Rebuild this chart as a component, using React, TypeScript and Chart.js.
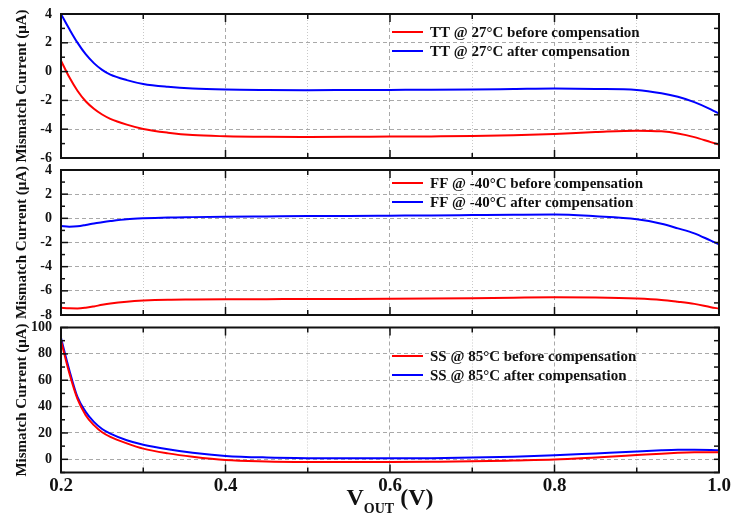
import React, { useEffect, useRef } from "react";
import { Chart, registerables } from "chart.js";

Chart.register(...registerables);

// ---------- data ----------
const vout = [
  0.2, 0.21, 0.22, 0.23, 0.24, 0.25, 0.26, 0.28, 0.3, 0.33, 0.36, 0.4, 0.45, 0.5,
  0.55, 0.6, 0.65, 0.7, 0.75, 0.8, 0.85, 0.9, 0.93, 0.95, 0.97, 0.99, 1.0,
];

const ttBefore = [
  0.76, -0.38, -1.33, -2.06, -2.58, -2.98, -3.28, -3.68, -3.98, -4.24, -4.41, -4.49, -4.53, -4.54,
  -4.53, -4.51, -4.5, -4.48, -4.42, -4.33, -4.2, -4.1, -4.15, -4.3, -4.55, -4.9, -5.07,
];
const ttAfter = [
  4.0, 2.97, 2.01, 1.21, 0.59, 0.12, -0.21, -0.59, -0.86, -1.06, -1.18, -1.25, -1.28, -1.29,
  -1.28, -1.27, -1.26, -1.24, -1.21, -1.18, -1.2, -1.27, -1.5, -1.75, -2.12, -2.62, -2.92,
];

const ffBefore = [
  -7.39, -7.45, -7.46, -7.4, -7.29, -7.16, -7.05, -6.9, -6.81, -6.74, -6.72, -6.7, -6.69, -6.67,
  -6.67, -6.66, -6.64, -6.61, -6.57, -6.54, -6.56, -6.64, -6.75, -6.9, -7.08, -7.35, -7.47,
];
const ffAfter = [
  -0.64, -0.69, -0.66, -0.55, -0.42, -0.32, -0.23, -0.08, 0.0, 0.07, 0.1, 0.13, 0.16, 0.19,
  0.2, 0.22, 0.24, 0.27, 0.3, 0.32, 0.17, -0.08, -0.45, -0.83, -1.24, -1.85, -2.15,
];

const ssBefore = [
  90, 65.6, 45.8, 33.5, 25.9, 20.5, 17.0, 12.1, 8.1, 4.5, 1.9, -0.6, -1.6, -2.0,
  -2.1, -2.0, -1.8, -1.5, -0.9, -0.2, 1.4, 3.2, 4.3, 4.9, 5.3, 5.4, 5.3,
];
const ssAfter = [
  92, 68, 47.3, 36.0, 28.4, 23.0, 19.5, 14.5, 11.1, 7.6, 4.9, 2.6, 1.4, 0.9,
  0.8, 0.8, 0.9, 1.3, 2.0, 3.0, 4.5, 6.0, 6.8, 7.2, 7.3, 7.1, 6.8,
];

const xTickLabels = ["0.2", "0.4", "0.6", "0.8", "1.0"];
const yTickLabelsTT = ["-6", "-4", "-2", "0", "2", "4"];
const yTickLabelsFF = ["-8", "-6", "-4", "-2", "0", "2", "4"];
const yTickLabelsSS = ["0", "20", "40", "60", "80", "100"];

const labelsTT = ["TT @ 27°C before compensation", "TT @ 27°C after compensation"];
const labelsFF = ["FF @ -40°C before compensation", "FF @ -40°C after compensation"];
const labelsSS = ["SS @ 85°C before compensation", "SS @ 85°C after compensation"];

const yAxisTitle = "Mismatch Current (μA)";
const xTitleMain = "V";
const xTitleSub = "OUT";
const xTitleUnit = "(V)";

// ---------- layout / style ----------
const W = 731;
const H = 517;
const PLOT_LEFT = 61;
const PLOT_RIGHT = 719;
const FONT = "'Liberation Serif', 'Times New Roman', Times, serif";
const TEXT = "#111";
const RED = "#ff0000";
const BLUE = "#0000ff";

type Panel = {
  top: number;
  bottom: number;
  yMin: number;
  yMax: number;
  yStep: number;
  yLabels: string[];
  before: number[];
  after: number[];
  labels: string[];
  legendDy: number;
  last: boolean;
};

const panels: Panel[] = [
  { top: 14, bottom: 158, yMin: -6, yMax: 4, yStep: 1, yLabels: yTickLabelsTT, before: ttBefore, after: ttAfter, labels: labelsTT, legendDy: 18, last: false },
  { top: 170, bottom: 315, yMin: -8, yMax: 4, yStep: 1, yLabels: yTickLabelsFF, before: ffBefore, after: ffAfter, labels: labelsFF, legendDy: 13, last: false },
  { top: 327.5, bottom: 472.5, yMin: -10, yMax: 100, yStep: 10, yLabels: yTickLabelsSS, before: ssBefore, after: ssAfter, labels: labelsSS, legendDy: 28.5, last: true },
];

const X_AXIS_H = 30;

const near = (a: number, b: number) => Math.abs(a - b) < 1e-6;
const xLabelFor = (v: number) => xTickLabels.find((l) => near(parseFloat(l), v));

const framePlugin = {
  id: "frameTicks",
  afterDatasetsDraw(chart: any, _args: any, opts: any) {
    const { ctx, chartArea: a, scales } = chart;
    const yLabels: string[] = opts.yLabels || [];
    ctx.save();
    ctx.strokeStyle = TEXT;
    ctx.lineWidth = 1.5;
    const seg = (x1: number, y1: number, x2: number, y2: number) => {
      ctx.beginPath();
      ctx.moveTo(x1, y1);
      ctx.lineTo(x2, y2);
      ctx.stroke();
    };
    for (const t of scales.x.ticks) {
      const px = scales.x.getPixelForValue(t.value);
      const len = xLabelFor(t.value) ? 8 : 5;
      seg(px, a.top, px, a.top + len);
      seg(px, a.bottom, px, a.bottom - len);
    }
    for (const t of scales.y.ticks) {
      const py = scales.y.getPixelForValue(t.value);
      const major = yLabels.some((l) => near(parseFloat(l), t.value));
      const len = major ? 7 : 4;
      seg(a.left, py, a.left + len, py);
      seg(a.right, py, a.right - 5, py);
    }
    ctx.lineWidth = 2;
    ctx.strokeRect(a.left, a.top, a.right - a.left, a.bottom - a.top);
    ctx.restore();
  },
};

const legendPlugin = {
  id: "insetLegend",
  afterDraw(chart: any, _args: any, opts: any) {
    const { ctx, chartArea: a } = chart;
    ctx.save();
    ctx.font = `bold 15px ${FONT}`;
    ctx.textBaseline = "middle";
    ctx.textAlign = "left";
    chart.data.datasets.forEach((ds: any, i: number) => {
      const y = a.top + opts.dy + i * 19;
      const x0 = a.left + 331;
      ctx.strokeStyle = ds.borderColor;
      ctx.lineWidth = 2;
      ctx.beginPath();
      ctx.moveTo(x0, y);
      ctx.lineTo(x0 + 31, y);
      ctx.stroke();
      ctx.fillStyle = TEXT;
      ctx.fillText(ds.label, x0 + 38, y + 1);
    });
    ctx.restore();
  },
};

const xTitlePlugin = {
  id: "xTitle",
  afterDraw(chart: any, _args: any, opts: any) {
    if (!opts.show) return;
    const { ctx, chartArea: a } = chart;
    ctx.save();
    ctx.fillStyle = TEXT;
    ctx.textBaseline = "alphabetic";
    ctx.textAlign = "left";
    const big = `bold 24px ${FONT}`;
    const small = `bold 14px ${FONT}`;
    ctx.font = big;
    const w1 = ctx.measureText(xTitleMain).width;
    const w3 = ctx.measureText(" " + xTitleUnit).width;
    ctx.font = small;
    const w2 = ctx.measureText(xTitleSub).width;
    const total = w1 + w2 + w3;
    let x = (a.left + a.right) / 2 - total / 2;
    const base = a.bottom + 32.5;
    ctx.font = big;
    ctx.fillText(xTitleMain, x, base);
    x += w1;
    ctx.font = small;
    ctx.fillText(xTitleSub, x, base + 8);
    x += w2;
    ctx.font = big;
    ctx.fillText(" " + xTitleUnit, x, base);
    ctx.restore();
  },
};

function PanelChart({ p }: { p: Panel }) {
  const ref = useRef<HTMLCanvasElement | null>(null);
  useEffect(() => {
    if (!ref.current) return;
    const mk = (vals: number[]) => vout.map((x, i) => ({ x, y: vals[i] }));
    const isYMajor = (v: number) => p.yLabels.some((l) => near(parseFloat(l), v));
    const chart = new Chart(ref.current, {
      type: "line",
      data: {
        datasets: [
          { label: p.labels[0], data: mk(p.before), borderColor: RED, backgroundColor: RED, borderWidth: 2, pointRadius: 0, cubicInterpolationMode: "monotone", fill: false },
          { label: p.labels[1], data: mk(p.after), borderColor: BLUE, backgroundColor: BLUE, borderWidth: 2, pointRadius: 0, cubicInterpolationMode: "monotone", fill: false },
        ],
      },
      options: {
        animation: false,
        responsive: false,
        devicePixelRatio: 1,
        events: [],
        layout: {
          padding: {
            left: 0,
            right: W - PLOT_RIGHT,
            top: p.top,
            bottom: p.last ? H - p.bottom - X_AXIS_H : H - p.bottom,
          },
        },
        plugins: {
          legend: { display: false },
          tooltip: { enabled: false },
          frameTicks: { yLabels: p.yLabels },
          insetLegend: { dy: p.legendDy },
          xTitle: { show: p.last },
        } as any,
        scales: {
          x: {
            type: "linear",
            min: 0.2,
            max: 1.0,
            ticks: {
              stepSize: 0.1,
              display: p.last,
              autoSkip: false,
              maxRotation: 0,
              padding: 2,
              color: TEXT,
              font: { family: FONT, size: 19, weight: "bold" },
              callback: (v: any) => xLabelFor(Number(v)) ?? "",
            },
            grid: {
              drawTicks: false,
              lineWidth: 1,
              color: (c: any) => {
                const v = c.tick?.value;
                if (v == null || near(v, 0.2) || near(v, 1.0)) return "rgba(0,0,0,0)";
                return xLabelFor(v) ? "#a9a9a9" : "#c8c8c8";
              },
            },
            border: {
              display: false,
              dash: (c: any) => {
                const v = c.tick?.value;
                if (v == null) return [];
                return xLabelFor(v) ? [4, 3] : [1, 2];
              },
            },
            afterFit: (s: any) => {
              s.height = p.last ? X_AXIS_H : 0;
              s.paddingLeft = 0;
              s.paddingRight = 0;
            },
          },
          y: {
            type: "linear",
            min: p.yMin,
            max: p.yMax,
            ticks: {
              stepSize: p.yStep,
              autoSkip: false,
              padding: 9,
              color: TEXT,
              font: { family: FONT, size: 14, weight: "bold" },
              callback: (v: any) => p.yLabels.find((l) => near(parseFloat(l), Number(v))) ?? "",
            },
            title: {
              display: true,
              text: yAxisTitle,
              color: TEXT,
              font: { family: FONT, size: 15, weight: "bold" },
              padding: { top: 13, bottom: 0 },
            },
            grid: {
              drawTicks: false,
              lineWidth: 1,
              color: (c: any) => {
                const v = c.tick?.value;
                if (v == null || near(v, p.yMin) || near(v, p.yMax)) return "rgba(0,0,0,0)";
                return isYMajor(v) ? "#a9a9a9" : "rgba(0,0,0,0)";
              },
            },
            border: { display: false, dash: [4, 3] },
            afterFit: (s: any) => {
              s.width = PLOT_LEFT;
              s.paddingTop = 0;
              s.paddingBottom = 0;
            },
          },
        },
      } as any,
      plugins: [framePlugin, legendPlugin, xTitlePlugin],
    });
    return () => chart.destroy();
  }, [p]);
  return (
    <canvas
      ref={ref}
      width={W}
      height={H}
      style={{ position: "absolute", left: 0, top: 0, width: W, height: H, display: "block" }}
    />
  );
}

export default function App() {
  return (
    <div style={{ position: "absolute", left: 0, top: 0, width: W, height: H, background: "#fff", overflow: "hidden" }}>
      {panels.map((p, i) => (
        <PanelChart key={i} p={p} />
      ))}
    </div>
  );
}
